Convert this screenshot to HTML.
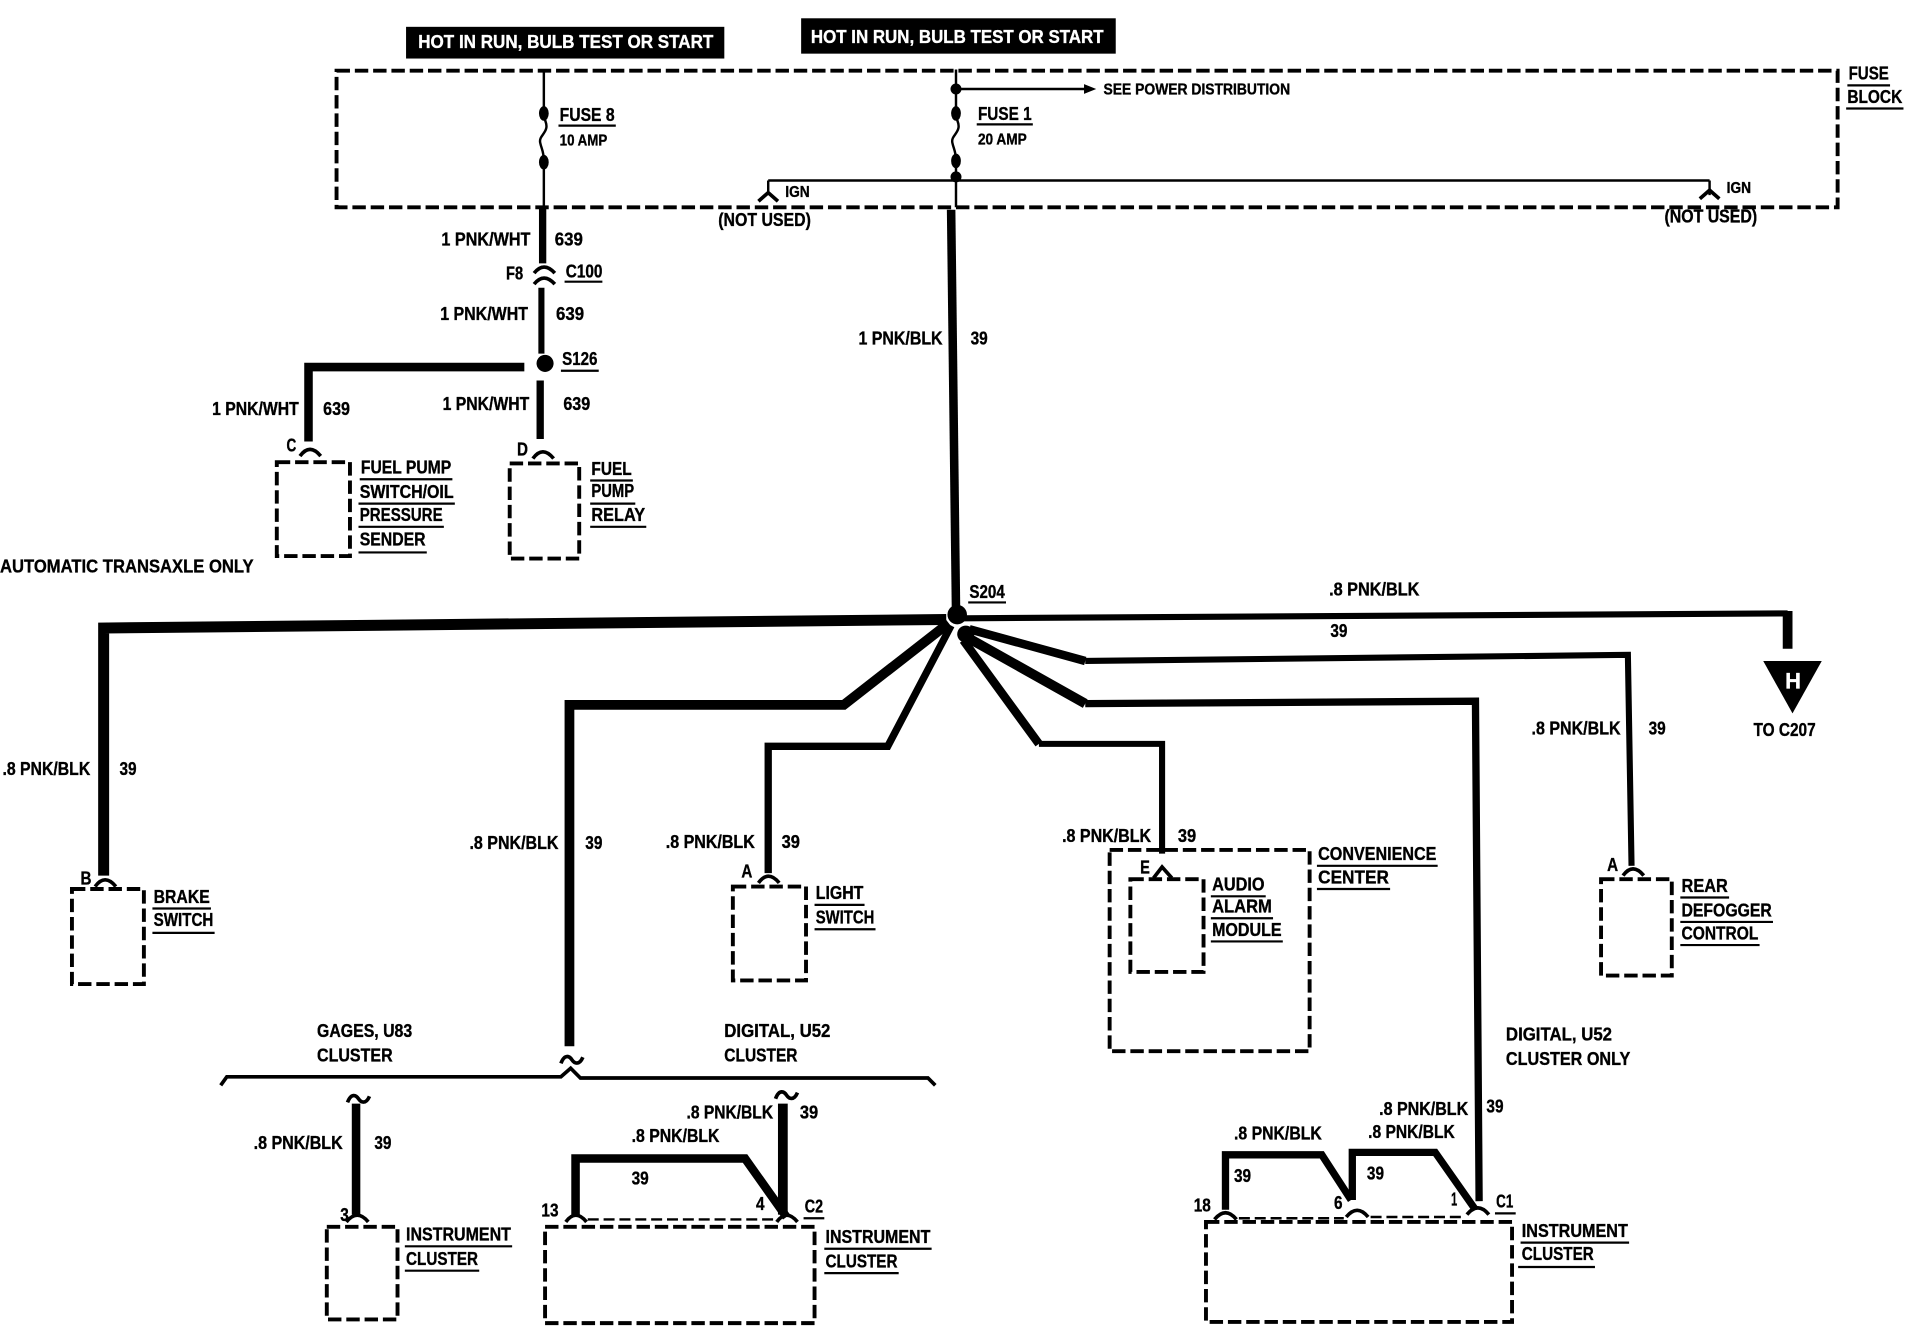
<!DOCTYPE html>
<html><head><meta charset="utf-8"><title>Wiring diagram</title>
<style>
html,body{margin:0;padding:0;background:#fff}
svg{display:block}
text{font-family:"Liberation Sans",sans-serif;font-weight:bold;font-size:15.5px;fill:#000;stroke:#000;stroke-width:.3;transform:translateY(-.6px)}
.s{font-size:12.5px}
.w{fill:#fff;stroke:#fff;font-size:15px}
.t{fill:none;stroke:#000;stroke-width:2}
.u{fill:none;stroke:#000;stroke-width:1.8}
.d{fill:none;stroke:#000;stroke-width:3.2;stroke-dasharray:11 4}
.h{fill:none;stroke:#000;stroke-linejoin:miter}
.c{fill:none;stroke:#000;stroke-width:3}
</style></head><body>
<svg xmlns="http://www.w3.org/2000/svg" width="1912" height="1328" viewBox="0 0 1568 1089" preserveAspectRatio="none">
<rect width="1568" height="1089" fill="#fff"/>
<!-- black labels -->
<rect x="333" y="22" width="261" height="26" fill="#000"/>
<rect x="657" y="15" width="258" height="29" fill="#000"/>
<text class="w" x="343" y="40" textLength="242" lengthAdjust="spacingAndGlyphs">HOT IN RUN, BULB TEST OR START</text>
<text class="w" x="665" y="36" textLength="240" lengthAdjust="spacingAndGlyphs">HOT IN RUN, BULB TEST OR START</text>
<!-- fuse block -->
<rect class="d" x="276" y="58" width="1231" height="112"/>
<path class="t" d="M446 57V92M446 92c0 8 3 8 2 13s-6 7-5 12 3 7 3 15M446 132V170"/>
<path class="t" d="M784 57V92M784 92c0 8 3 8 2 13s-6 7-5 12 3 7 3 15M784 132V170M784 73H890M630 148H1402M630 148V160M1402 148V160"/>
<path d="M889 69L899 73L889 77Z"/>
<path class="c" stroke-width="2" d="M622 165L630 158L638 165M1394 163L1402 156L1410 163"/>
<ellipse cx="446" cy="93" rx="4" ry="6"/><ellipse cx="446" cy="133" rx="4" ry="6"/>
<ellipse cx="784" cy="73" rx="4.5" ry="4.5"/><ellipse cx="784" cy="93" rx="4" ry="6"/><ellipse cx="784" cy="132" rx="4" ry="6"/><ellipse cx="784" cy="145" rx="4.5" ry="4.5"/>
<text x="459" y="100" textLength="45" lengthAdjust="spacingAndGlyphs">FUSE 8</text><path class="u" d="M458 103H505"/>
<text class="s" x="459" y="120" textLength="39" lengthAdjust="spacingAndGlyphs">10 AMP</text>
<text x="802" y="99" textLength="44" lengthAdjust="spacingAndGlyphs">FUSE 1</text><path class="u" d="M801 102H847"/>
<text class="s" x="802" y="119" textLength="40" lengthAdjust="spacingAndGlyphs">20 AMP</text>
<text class="s" x="905" y="78" textLength="153" lengthAdjust="spacingAndGlyphs">SEE POWER DISTRIBUTION</text>
<text x="1516" y="66" textLength="33" lengthAdjust="spacingAndGlyphs">FUSE</text><path class="u" d="M1515 70H1550"/>
<text x="1515" y="85" textLength="45" lengthAdjust="spacingAndGlyphs">BLOCK</text><path class="u" d="M1514 89H1561"/>
<text class="s" x="644" y="162" textLength="20" lengthAdjust="spacingAndGlyphs">IGN</text>
<text class="s" x="1416" y="159" textLength="20" lengthAdjust="spacingAndGlyphs">IGN</text>
<text x="589" y="186" textLength="76" lengthAdjust="spacingAndGlyphs">(NOT USED)</text>
<text x="1365" y="183" textLength="76" lengthAdjust="spacingAndGlyphs">(NOT USED)</text>
<!-- 639 -->
<path class="h" stroke-width="6" d="M445 171V216"/>
<path class="c" d="M438 224Q446 214 455 224M438 233Q446 223 455 233"/>
<path class="h" stroke-width="5" d="M444 236V290"/>
<circle cx="447" cy="298" r="7"/>
<path class="h" stroke-width="7" d="M430 301H253V362"/>
<path class="h" stroke-width="6" d="M443 312V360"/>
<path class="c" d="M246 374Q254 363 263 374M437 376Q445 365 454 376"/>
<text x="362" y="202" textLength="73" lengthAdjust="spacingAndGlyphs">1 PNK/WHT</text><text x="455" y="202" textLength="23" lengthAdjust="spacingAndGlyphs">639</text>
<text x="415" y="230" textLength="14" lengthAdjust="spacingAndGlyphs">F8</text>
<text x="464" y="228" textLength="30" lengthAdjust="spacingAndGlyphs">C100</text><path class="u" d="M463 231H494"/>
<text x="361" y="263" textLength="72" lengthAdjust="spacingAndGlyphs">1 PNK/WHT</text><text x="456" y="263" textLength="23" lengthAdjust="spacingAndGlyphs">639</text>
<text x="461" y="300" textLength="29" lengthAdjust="spacingAndGlyphs">S126</text><path class="u" d="M460 304H491"/>
<text x="174" y="341" textLength="71" lengthAdjust="spacingAndGlyphs">1 PNK/WHT</text><text x="265" y="341" textLength="22" lengthAdjust="spacingAndGlyphs">639</text>
<text x="363" y="337" textLength="71" lengthAdjust="spacingAndGlyphs">1 PNK/WHT</text><text x="462" y="337" textLength="22" lengthAdjust="spacingAndGlyphs">639</text>
<text x="235" y="371" textLength="8" lengthAdjust="spacingAndGlyphs">C</text>
<text x="424" y="374" textLength="9" lengthAdjust="spacingAndGlyphs">D</text>
<rect class="d" x="227" y="379" width="60" height="77"/>
<rect class="d" x="418" y="380" width="57" height="78"/>
<text x="296" y="389" textLength="74" lengthAdjust="spacingAndGlyphs">FUEL PUMP</text><path class="u" d="M295 393H371"/>
<text x="295" y="409" textLength="77" lengthAdjust="spacingAndGlyphs">SWITCH/OIL</text><path class="u" d="M294 413H373"/>
<text x="295" y="428" textLength="68" lengthAdjust="spacingAndGlyphs">PRESSURE</text><path class="u" d="M294 432H364"/>
<text x="295" y="448" textLength="54" lengthAdjust="spacingAndGlyphs">SENDER</text><path class="u" d="M294 453H350"/>
<text x="485" y="390" textLength="33" lengthAdjust="spacingAndGlyphs">FUEL</text><path class="u" d="M484 394H519"/>
<text x="485" y="408" textLength="35" lengthAdjust="spacingAndGlyphs">PUMP</text><path class="u" d="M484 413H521"/>
<text x="485" y="428" textLength="44" lengthAdjust="spacingAndGlyphs">RELAY</text><path class="u" d="M484 432H530"/>
<text x="0" y="470" textLength="208" lengthAdjust="spacingAndGlyphs">AUTOMATIC TRANSAXLE ONLY</text>
<!-- main -->
<path class="h" stroke-width="7" d="M780 172L784 500"/>
<circle cx="785" cy="504" r="8"/><circle cx="792" cy="520" r="7"/>
<text x="704" y="283" textLength="69" lengthAdjust="spacingAndGlyphs">1 PNK/BLK</text><text x="796" y="283" textLength="14" lengthAdjust="spacingAndGlyphs">39</text>
<text x="795" y="491" textLength="29" lengthAdjust="spacingAndGlyphs">S204</text><path class="u" d="M794 494H825"/>
<path class="h" stroke-width="9" d="M776 508L85 515V718"/>
<path class="h" stroke-width="8" d="M778 511L692 578H467V858"/>
<path class="h" stroke-width="6" d="M780 513L728 612H630V716"/>
<path class="h" stroke-width="7" d="M790 525L852 610"/>
<path class="h" stroke-width="5" d="M852 610H953V700"/>
<path class="h" stroke-width="8" d="M792 522L890 577"/>
<path class="h" stroke-width="6" d="M890 577L1210 575L1213 985"/>
<path class="h" stroke-width="7" d="M795 516L890 542"/>
<path class="h" stroke-width="5" d="M890 542L1335 537L1338 710"/>
<path class="h" stroke-width="5" d="M790 507L1466 503"/>
<path class="h" stroke-width="8" d="M1466 501V532"/>
<path d="M1446 542H1494L1470 585Z"/>
<text x="1464" y="565" textLength="13" lengthAdjust="spacingAndGlyphs" style="fill:#fff;stroke:#fff;font-size:18px">H</text>
<text x="1090" y="489" textLength="74" lengthAdjust="spacingAndGlyphs">.8 PNK/BLK</text>
<text x="1091" y="523" textLength="14" lengthAdjust="spacingAndGlyphs">39</text>
<text x="1438" y="604" textLength="51" lengthAdjust="spacingAndGlyphs">TO C207</text>
<text x="1256" y="603" textLength="73" lengthAdjust="spacingAndGlyphs">.8 PNK/BLK</text><text x="1352" y="603" textLength="14" lengthAdjust="spacingAndGlyphs">39</text>
<text x="2" y="636" textLength="72" lengthAdjust="spacingAndGlyphs">.8 PNK/BLK</text><text x="98" y="636" textLength="14" lengthAdjust="spacingAndGlyphs">39</text>
<text x="385" y="697" textLength="73" lengthAdjust="spacingAndGlyphs">.8 PNK/BLK</text><text x="480" y="697" textLength="14" lengthAdjust="spacingAndGlyphs">39</text>
<text x="546" y="696" textLength="73" lengthAdjust="spacingAndGlyphs">.8 PNK/BLK</text><text x="641" y="696" textLength="15" lengthAdjust="spacingAndGlyphs">39</text>
<text x="871" y="691" textLength="73" lengthAdjust="spacingAndGlyphs">.8 PNK/BLK</text><text x="966" y="691" textLength="15" lengthAdjust="spacingAndGlyphs">39</text>
<!-- brake, light -->
<path class="c" d="M78 727Q86 716 95 727M622 724Q630 713 639 724M946 720L953 711L961 720M1331 718Q1339 707 1348 718"/>
<text x="66" y="726" textLength="9" lengthAdjust="spacingAndGlyphs">B</text>
<rect class="d" x="59" y="729" width="59" height="78"/>
<text x="126" y="741" textLength="46" lengthAdjust="spacingAndGlyphs">BRAKE</text><path class="u" d="M125 745H173"/>
<text x="126" y="760" textLength="49" lengthAdjust="spacingAndGlyphs">SWITCH</text><path class="u" d="M125 765H176"/>
<text x="608" y="720" textLength="9" lengthAdjust="spacingAndGlyphs">A</text>
<rect class="d" x="601" y="727" width="60" height="77"/>
<text x="669" y="738" textLength="39" lengthAdjust="spacingAndGlyphs">LIGHT</text><path class="u" d="M668 742H709"/>
<text x="669" y="758" textLength="48" lengthAdjust="spacingAndGlyphs">SWITCH</text><path class="u" d="M668 762H718"/>
<!-- convenience -->
<rect class="d" x="910" y="697" width="164" height="165"/>
<rect class="d" x="927" y="721" width="60" height="76"/>
<text x="935" y="717" textLength="8" lengthAdjust="spacingAndGlyphs">E</text>
<text x="994" y="731" textLength="43" lengthAdjust="spacingAndGlyphs">AUDIO</text><path class="u" d="M993 735H1038"/>
<text x="994" y="749" textLength="49" lengthAdjust="spacingAndGlyphs">ALARM</text><path class="u" d="M993 753H1044"/>
<text x="994" y="768" textLength="57" lengthAdjust="spacingAndGlyphs">MODULE</text><path class="u" d="M993 772H1052"/>
<text x="1081" y="706" textLength="97" lengthAdjust="spacingAndGlyphs">CONVENIENCE</text><path class="u" d="M1080 710H1179"/>
<text x="1081" y="725" textLength="58" lengthAdjust="spacingAndGlyphs">CENTER</text><path class="u" d="M1080 729H1140"/>
<!-- rear -->
<text x="1318" y="715" textLength="9" lengthAdjust="spacingAndGlyphs">A</text>
<rect class="d" x="1313" y="721" width="58" height="79"/>
<text x="1379" y="732" textLength="38" lengthAdjust="spacingAndGlyphs">REAR</text><path class="u" d="M1378 736H1418"/>
<text x="1379" y="752" textLength="74" lengthAdjust="spacingAndGlyphs">DEFOGGER</text><path class="u" d="M1378 756H1454"/>
<text x="1379" y="771" textLength="63" lengthAdjust="spacingAndGlyphs">CONTROL</text><path class="u" d="M1378 775H1443"/>
<!-- brace -->
<path class="h" stroke-width="3" d="M181 890L186 883H460L468 876L476 884H761L767 890"/>
<path class="c" stroke-width="2.5" d="M460 872c3-8 7-6 9-3s6 5 9-2M285 904c3-8 7-6 9-3s6 5 9-2M636 901c3-8 7-6 9-3s6 5 9-2"/>
<text x="260" y="851" textLength="78" lengthAdjust="spacingAndGlyphs">GAGES, U83</text>
<text x="260" y="871" textLength="62" lengthAdjust="spacingAndGlyphs">CLUSTER</text>
<text x="594" y="851" textLength="87" lengthAdjust="spacingAndGlyphs">DIGITAL, U52</text>
<text x="594" y="871" textLength="60" lengthAdjust="spacingAndGlyphs">CLUSTER</text>
<!-- left cluster -->
<path class="h" stroke-width="7" d="M292 905V996"/>
<path class="c" d="M284 1002Q293 991 302 1002"/>
<rect class="d" x="268" y="1006" width="58" height="76"/>
<text x="208" y="943" textLength="73" lengthAdjust="spacingAndGlyphs">.8 PNK/BLK</text><text x="307" y="943" textLength="14" lengthAdjust="spacingAndGlyphs">39</text>
<text x="279" y="1002" textLength="7" lengthAdjust="spacingAndGlyphs">3</text>
<text x="333" y="1018" textLength="86" lengthAdjust="spacingAndGlyphs">INSTRUMENT</text><path class="u" d="M332 1022H420"/>
<text x="333" y="1038" textLength="59" lengthAdjust="spacingAndGlyphs">CLUSTER</text><path class="u" d="M332 1042H393"/>
<!-- middle cluster -->
<path class="h" stroke-width="7" d="M472 996V950H611L645 998"/>
<path class="h" stroke-width="8" d="M642 905V996"/>
<path class="c" d="M464 1002Q472 991 481 1002M637 1002Q645 991 654 1002"/>
<path class="t" d="M482 1000H635" stroke-dasharray="9 4"/>
<rect class="d" x="447" y="1006" width="221" height="79"/>
<text x="563" y="918" textLength="71" lengthAdjust="spacingAndGlyphs">.8 PNK/BLK</text><text x="656" y="918" textLength="15" lengthAdjust="spacingAndGlyphs">39</text>
<text x="518" y="937" textLength="72" lengthAdjust="spacingAndGlyphs">.8 PNK/BLK</text>
<text x="518" y="972" textLength="14" lengthAdjust="spacingAndGlyphs">39</text>
<text x="444" y="998" textLength="14" lengthAdjust="spacingAndGlyphs">13</text>
<text x="620" y="993" textLength="7" lengthAdjust="spacingAndGlyphs">4</text>
<text x="660" y="995" textLength="15" lengthAdjust="spacingAndGlyphs">C2</text><path class="u" d="M659 999H676"/>
<text x="677" y="1020" textLength="86" lengthAdjust="spacingAndGlyphs">INSTRUMENT</text><path class="u" d="M676 1024H764"/>
<text x="677" y="1040" textLength="59" lengthAdjust="spacingAndGlyphs">CLUSTER</text><path class="u" d="M676 1044H737"/>
<!-- right cluster -->
<text x="1235" y="854" textLength="87" lengthAdjust="spacingAndGlyphs">DIGITAL, U52</text>
<text x="1235" y="874" textLength="102" lengthAdjust="spacingAndGlyphs">CLUSTER ONLY</text>
<path class="h" stroke-width="6" d="M1005 992V947H1084L1108 984"/>
<path class="h" stroke-width="6" d="M1109 984V945H1177L1210 992"/>
<path class="c" d="M996 1000Q1005 989 1014 1000M1104 998Q1113 987 1122 998M1203 996Q1212 985 1221 996"/>
<path class="t" d="M1016 999H1102M1124 998H1202" stroke-dasharray="9 4"/>
<rect class="d" x="989" y="1002" width="251" height="82"/>
<text x="1131" y="915" textLength="73" lengthAdjust="spacingAndGlyphs">.8 PNK/BLK</text><text x="1219" y="913" textLength="14" lengthAdjust="spacingAndGlyphs">39</text>
<text x="1122" y="934" textLength="71" lengthAdjust="spacingAndGlyphs">.8 PNK/BLK</text><text x="1121" y="968" textLength="14" lengthAdjust="spacingAndGlyphs">39</text>
<text x="1012" y="935" textLength="72" lengthAdjust="spacingAndGlyphs">.8 PNK/BLK</text><text x="1012" y="970" textLength="14" lengthAdjust="spacingAndGlyphs">39</text>
<text x="979" y="994" textLength="14" lengthAdjust="spacingAndGlyphs">18</text>
<text x="1094" y="992" textLength="7" lengthAdjust="spacingAndGlyphs">6</text>
<text x="1190" y="989" textLength="5" lengthAdjust="spacingAndGlyphs">1</text>
<text x="1227" y="991" textLength="14" lengthAdjust="spacingAndGlyphs">C1</text><path class="u" d="M1226 995H1243"/>
<text x="1248" y="1015" textLength="87" lengthAdjust="spacingAndGlyphs">INSTRUMENT</text><path class="u" d="M1247 1019H1336"/>
<text x="1248" y="1034" textLength="59" lengthAdjust="spacingAndGlyphs">CLUSTER</text><path class="u" d="M1245 1039H1308"/>
</svg>
</body></html>
